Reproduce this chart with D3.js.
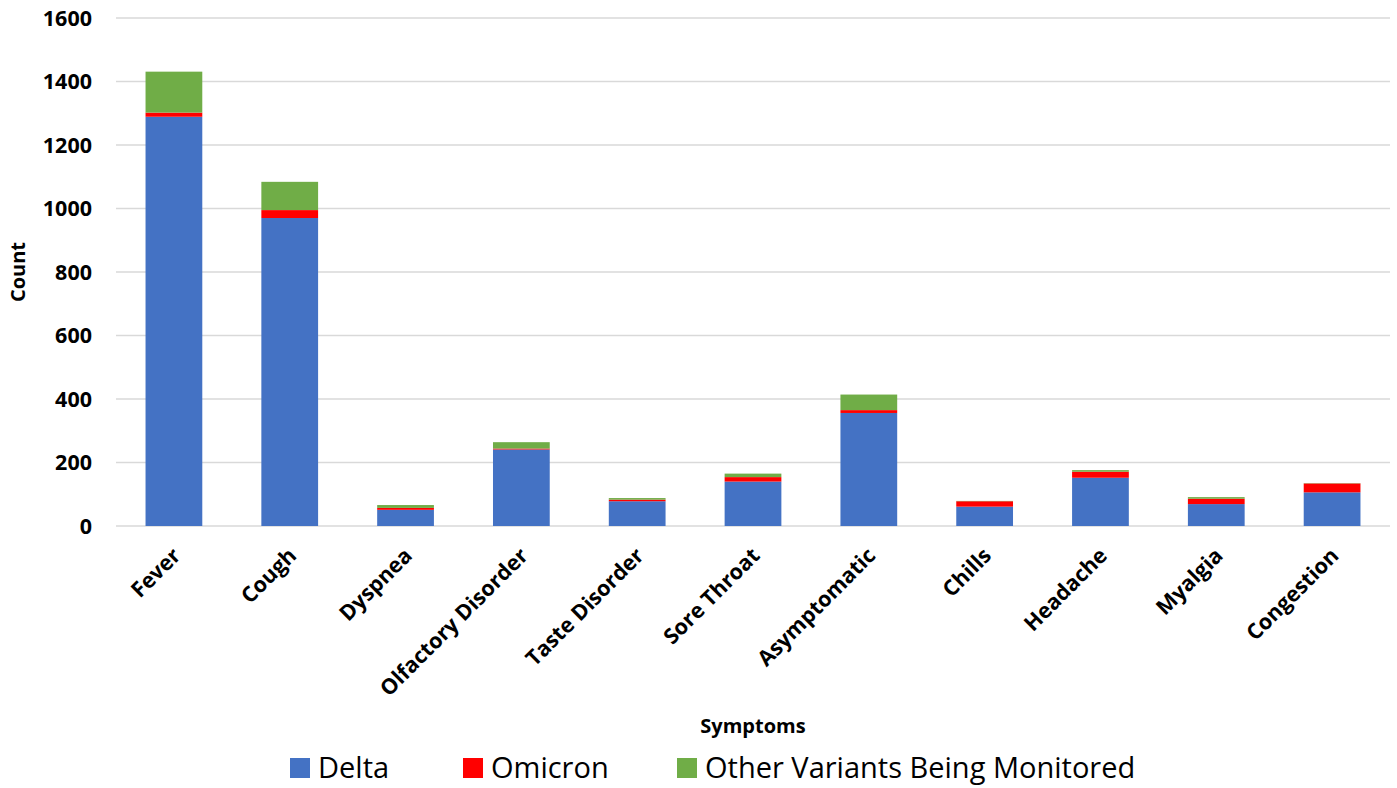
<!DOCTYPE html>
<html>
<head>
<meta charset="utf-8">
<title>Symptoms by variant</title>
<script src="https://d3js.org/d3.v7.min.js"></script>
<style>
	body { margin: 0; background: #fff; }
	text { font-family: "Open Sans", sans-serif; fill: #000; }
	.tick-label, .axis-title { font-weight: bold; }
	.legend text { font-size: 29px; }
</style>
</head>
<body>
<svg width="1397" height="788"></svg>
<script>
	// Data
	var symptoms = ["Fever", "Cough", "Dyspnea", "Olfactory Disorder", "Taste Disorder", "Sore Throat",
		"Asymptomatic", "Chills", "Headache", "Myalgia", "Congestion"];
	var delta   = [1289, 970, 51, 241, 78, 140, 356, 61, 152, 69, 106];
	var omicron = [13, 25, 6, 3, 5, 14, 9, 17, 19, 17, 28];
	var other   = [129, 89, 9, 20, 5, 11, 49, 1, 5, 5, 1];
	var seriesNames = ["Delta", "Omicron", "Other Variants Being Monitored"];
	var seriesColors = ["#4472C4", "#FF0000", "#70AD47"];
	var yTicks = [0, 200, 400, 600, 800, 1000, 1200, 1400, 1600];

	var svg = d3.select("svg");
	var margin = {left: 116, right: 7, top: 18, bottom: 262};
	var width = 1397, height = 788;

	// table for the stack
	var rows = symptoms.map(function(s, i) {
		return {name: s, Delta: delta[i], Omicron: omicron[i], "Other Variants Being Monitored": other[i]};
	});
	var stacked = d3.stack().keys(seriesNames)(rows);

	var x = d3.scaleBand()
		.domain(symptoms)
		.range([margin.left, width - margin.right])
		.paddingInner(0.51)
		.paddingOuter(0.255);

	var y = d3.scaleLinear()
		.domain([0, 1600])
		.range([height - margin.bottom, margin.top]);

	// gridlines
	svg.append("g")
		.selectAll("line")
		.data(yTicks)
		.enter()
		.append("line")
		.attr("x1", margin.left)
		.attr("x2", width - margin.right)
		.attr("y1", function(d) { return y(d); })
		.attr("y2", function(d) { return y(d); })
		.attr("stroke", "#d9d9d9")
		.attr("stroke-width", 1.5);

	// y tick labels
	svg.append("g")
		.selectAll("text")
		.data(yTicks)
		.enter()
		.append("text")
		.attr("class", "tick-label")
		.attr("x", 92)
		.attr("y", function(d) { return y(d); })
		.attr("dy", "0.36em")
		.attr("text-anchor", "end")
		.style("font-size", "21.5px")
		.text(function(d) { return d; });

	// bars
	svg.append("g")
		.selectAll("g")
		.data(stacked)
		.enter()
		.append("g")
		.attr("fill", function(d, i) { return seriesColors[i]; })
		.selectAll("rect")
		.data(function(d) { return d; })
		.enter()
		.append("rect")
		.attr("x", function(d) { return x(d.data.name); })
		.attr("width", x.bandwidth())
		.attr("y", function(d) { return y(d[1]); })
		.attr("height", function(d) { return y(d[0]) - y(d[1]); });

	// x tick labels, rotated
	svg.append("g")
		.selectAll("text")
		.data(symptoms)
		.enter()
		.append("text")
		.attr("class", "tick-label")
		.attr("text-anchor", "end")
		.style("font-size", "21.5px")
		.attr("transform", function(d) {
			return "translate(" + (x(d) + x.bandwidth() / 2 + 8) + "," + (y(0) + 31) + ") rotate(-45)";
		})
		.text(function(d) { return d; });

	// axis titles
	svg.append("text")
		.attr("class", "axis-title")
		.attr("text-anchor", "middle")
		.style("font-size", "20px")
		.attr("transform", "translate(25," + ((y(0) + y(1600)) / 2) + ") rotate(-90)")
		.text("Count");

	svg.append("text")
		.attr("class", "axis-title")
		.attr("x", (margin.left + width - margin.right) / 2)
		.attr("y", 733)
		.attr("text-anchor", "middle")
		.style("font-size", "20px")
		.text("Symptoms");

	// legend
	var legendX = [290, 463, 677];
	var legend = svg.append("g").attr("class", "legend");
	var items = legend.selectAll("g")
		.data(seriesNames)
		.enter()
		.append("g")
		.attr("transform", function(d, i) { return "translate(" + legendX[i] + ",758)"; });
	items.append("rect")
		.attr("width", 20)
		.attr("height", 20)
		.attr("fill", function(d, i) { return seriesColors[i]; });
	items.append("text")
		.attr("x", 28)
		.attr("y", 20)
		.text(function(d) { return d; });
</script>
</body>
</html>
